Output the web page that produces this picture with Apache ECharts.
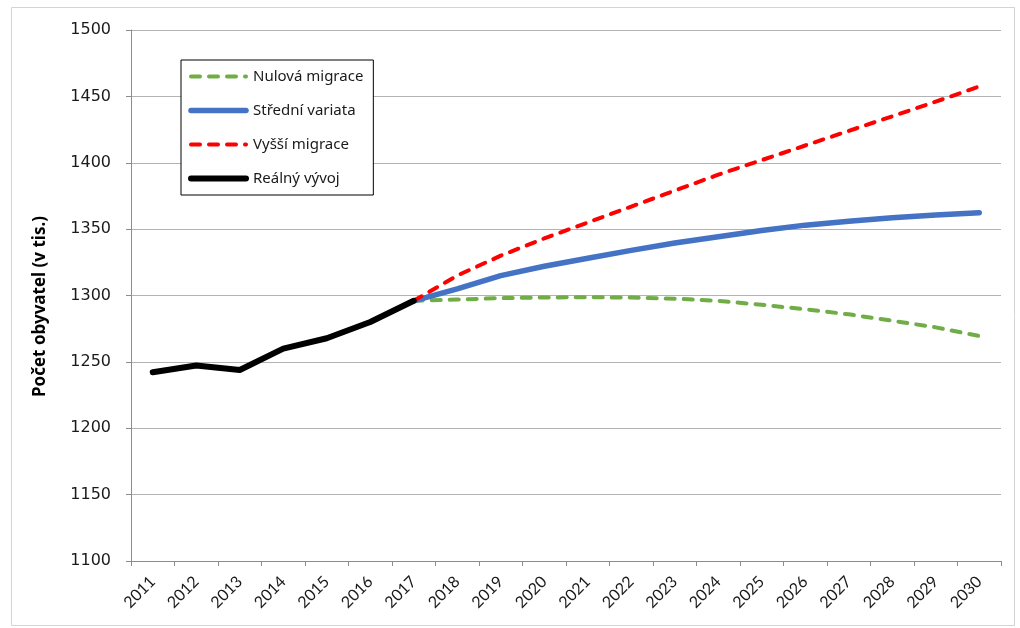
<!DOCTYPE html>
<html>
<head>
<meta charset="utf-8">
<script src="https://cdn.jsdelivr.net/npm/echarts@6/dist/echarts.min.js"></script>
<style>html,body{margin:0;padding:0;background:#fff;}#c{width:1020px;height:628px;}</style>
</head>
<body>
<div id="c"></div>
<script>
const years = ['2011','2012','2013','2014','2015','2016','2017','2018','2019','2020','2021','2022','2023','2024','2025','2026','2027','2028','2029','2030'];
const yTicks = [1100, 1500, 50]; // min, max, interval
// Reálný vývoj 2011–2017
const realny = [1242.2, 1247.3, 1243.9, 1260.0, 1267.8, 1280.0, 1296.0];
// Projections 2017–2030
const nulova = [1296.0, 1297.0, 1298.0, 1298.5, 1298.7, 1298.4, 1297.6, 1296.0, 1293.0, 1289.6, 1285.8, 1281.0, 1276.0, 1269.5];
const stredni = [1296.0, 1305.0, 1315.0, 1322.0, 1328.0, 1334.0, 1339.5, 1344.3, 1349.0, 1353.0, 1356.0, 1358.6, 1360.6, 1362.4];
const vyssi = [1296.0, 1315.0, 1330.0, 1343.0, 1355.0, 1367.0, 1379.0, 1391.0, 1402.0, 1413.0, 1424.0, 1435.0, 1446.0, 1457.5];
const names = ['Nulová migrace', 'Střední variata', 'Vyšší migrace', 'Reálný vývoj'];
const yTitle = 'Počet obyvatel (v tis.)';

const colors = ['#70ad47', '#4472c4', '#ff0000', '#000000'];
const widths = [4, 5.5, 4, 6];
const dashes = [[9, 9], 'solid', [9, 9], 'solid'];

const pad = (arr, before) => Array(before).fill(null).concat(arr).concat(Array(years.length - before - arr.length).fill(null));
const seriesData = [pad(nulova, 6), pad(stredni, 6), pad(vyssi, 6), pad(realny, 0)];

const chart = echarts.init(document.getElementById('c'), null, {renderer: 'canvas'});
chart.setOption({
  animation: false,
  backgroundColor: '#fff',
  graphic: [{
    type: 'rect', silent: true, z: -1,
    shape: {x: 11.5, y: 7.5, width: 1003, height: 618},
    style: {fill: 'none', stroke: '#d4d4d4', lineWidth: 1}
  }],
  grid: {left: 131, right: 19, top: 30, bottom: 67, containLabel: false},
  legend: {
    orient: 'vertical', left: 181, top: 60,
    padding: [9, 10, 9, 7],
    itemWidth: 55, itemHeight: 14, itemGap: 19,
    borderColor: '#000', borderWidth: 1,
    backgroundColor: '#fff',
    itemStyle: {opacity: 0},
    textStyle: {fontFamily: 'Noto Sans', fontSize: 15, color: '#1a1a1a', padding: [0, 0, 0, 2]},
    data: names.map((n, i) => ({
      name: n,
      itemStyle: {opacity: 0},
      lineStyle: {color: colors[i], width: widths[i], type: dashes[i], cap: 'round', opacity: 1}
    }))
  },
  xAxis: {
    type: 'category', data: years, boundaryGap: true,
    axisLine: {lineStyle: {color: '#8c8c8c', width: 1}},
    axisTick: {show: true, alignWithLabel: false, length: 5, lineStyle: {color: '#8c8c8c'}},
    axisLabel: {rotate: 45, interval: 0, margin: 18, fontFamily: 'Lato', fontSize: 16, color: '#1a1a1a'},
    splitLine: {show: false}
  },
  yAxis: {
    type: 'value', min: yTicks[0], max: yTicks[1], interval: yTicks[2],
    name: yTitle, nameLocation: 'middle', nameRotate: 90, nameGap: 82,
    nameTextStyle: {fontFamily: 'Noto Sans', fontWeight: 'bold', fontSize: 17, color: '#000', padding: [0, 22, 0, 0]},
    axisLine: {show: true, lineStyle: {color: '#8c8c8c', width: 1}},
    axisTick: {show: true, length: 5, lineStyle: {color: '#8c8c8c'}},
    axisLabel: {margin: 20, fontFamily: 'DejaVu Sans', fontSize: 16, color: '#1a1a1a', formatter: v => String(v)},
    splitLine: {show: true, lineStyle: {color: '#b3b3b3', width: 1}}
  },
  series: names.map((n, i) => ({
    name: n, type: 'line', data: seriesData[i], symbol: 'none', connectNulls: false,
    lineStyle: {color: colors[i], width: widths[i], type: dashes[i], cap: 'round', join: 'round'},
    itemStyle: {color: colors[i]}
  }))
});
</script>
</body>
</html>
